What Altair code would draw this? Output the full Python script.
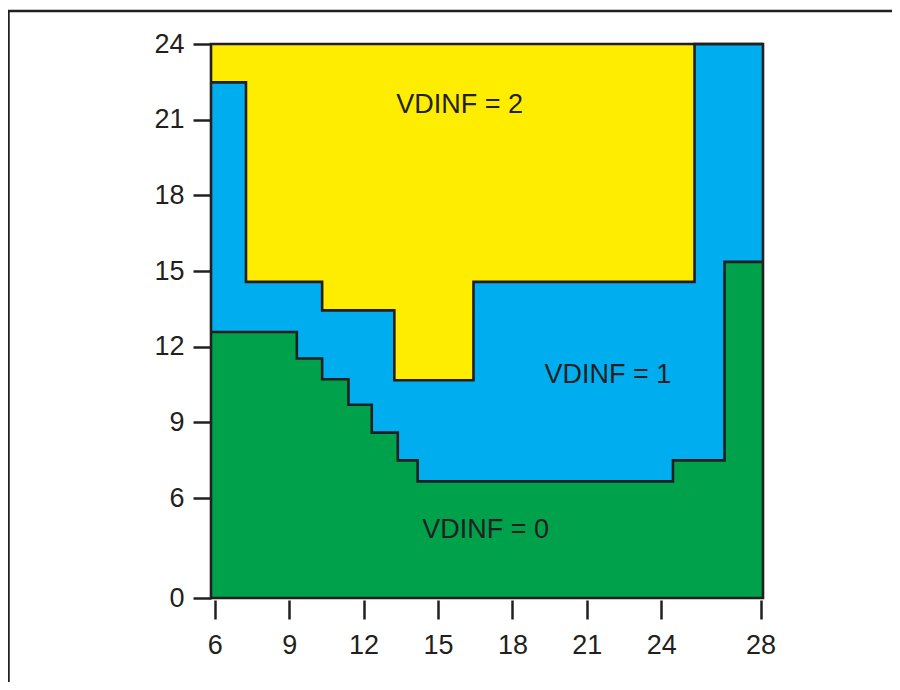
import altair as alt
import pandas as pd

# ---- data ----
x_start = 5.85
x_end = 28.1
y_top = 24

# upper edge of the VDINF = 0 region (step function, value holds until next x)
green_step_x = [5.85, 9.31, 10.33, 11.39, 12.33, 13.38, 14.18, 24.47, 26.55]
green_top = [12.58, 11.53, 10.71, 9.70, 8.59, 7.49, 6.66, 7.49, 15.36]

# upper edge of the VDINF = 1 region
blue_step_x = [5.85, 7.26, 10.33, 13.24, 16.43, 25.34]
blue_top = [22.48, 14.57, 13.44, 10.67, 14.57, 24.0]

x_ticks = [6, 9, 12, 15, 18, 21, 24, 28]
y_ticks = [0, 6, 9, 12, 15, 18, 21, 24]

region_labels = ["VDINF = 2", "VDINF = 1", "VDINF = 0"]
label_x = [15.87, 21.85, 16.92]
label_y = [21.6, 10.86, 4.08]

YELLOW = "#FFED00"
BLUE = "#00AEEF"
GREEN = "#00A14B"
INK = "#231f20"
FONT = "Liberation Sans"

# ---- tables ----
green = pd.DataFrame({"x": green_step_x + [x_end], "y": green_top + [green_top[-1]]})
blue = pd.DataFrame({"x": blue_step_x + [x_end], "y": blue_top + [blue_top[-1]]})
frame = pd.DataFrame({"x": [x_start], "x2": [x_end], "y": [0], "y2": [y_top]})
texts = pd.DataFrame({"label": region_labels, "x": label_x, "y": label_y})

W, H = 552, 554
xscale = alt.Scale(domain=[x_start, x_end], nice=False, zero=False)
# y axis is broken: 0..6 compressed into the bottom strip
yscale = alt.Scale(domain=[0, 6, 24], range=[H, H - 100, 0], nice=False, zero=False)

xaxis = alt.Axis(values=x_ticks, domain=False, grid=False, tickSize=19, tickWidth=2.5,
                 tickColor=INK, offset=2, labelFont=FONT, labelFontSize=27,
                 labelColor=INK, labelPadding=13, labelFlush=False, labelOverlap=False,
                 labelBound=False)
yaxis = alt.Axis(values=y_ticks, domain=False, grid=False, tickSize=18, tickWidth=2.5,
                 tickColor=INK, labelFont=FONT, labelFontSize=27, labelColor=INK,
                 labelPadding=9, labelFlush=False, labelOverlap=False, labelBound=False)

X = alt.X("x:Q", scale=xscale, axis=xaxis, title=None)
Y = alt.Y("y:Q", scale=yscale, axis=yaxis, title=None)

yellow_layer = alt.Chart(frame).mark_rect(color=YELLOW).encode(
    x=X, x2="x2:Q", y=Y, y2="y2:Q")

blue_layer = alt.Chart(blue).mark_area(interpolate="step-after", color=BLUE).encode(x=X, y=Y)
green_layer = alt.Chart(green).mark_area(interpolate="step-after", color=GREEN).encode(x=X, y=Y)

blue_line = alt.Chart(blue).mark_line(interpolate="step-after", color=INK, strokeWidth=2.6).encode(x=X, y=Y)
green_line = alt.Chart(green).mark_line(interpolate="step-after", color=INK, strokeWidth=2.6).encode(x=X, y=Y)

border = alt.Chart(frame).mark_rect(fillOpacity=0, stroke=INK, strokeWidth=2.6).encode(
    x=X, x2="x2:Q", y=Y, y2="y2:Q")

label_layer = alt.Chart(texts).mark_text(font=FONT, fontSize=27, color=INK).encode(
    x=X, y=Y, text="label:N")

# outer page frame (decoration)
frame_left = alt.Chart(frame).mark_rule(color=INK, strokeWidth=2.5).encode(
    x=alt.value(-202.5), y=alt.value(-33), y2=alt.value(640))
frame_top = alt.Chart(frame).mark_rule(color=INK, strokeWidth=2.5).encode(
    x=alt.value(-203.75), x2=alt.value(681), y=alt.value(-33))

chart = alt.layer(
    yellow_layer, blue_layer, green_layer, blue_line, green_line, border,
    label_layer, frame_left, frame_top
).properties(
    width=W, height=H,
    autosize=alt.AutoSizeParams(type="none"),
    padding={"left": 203, "top": 36, "right": 129, "bottom": 84},
    background="white",
).configure_view(stroke=None)

chart.save("out.html", embed_options={"renderer": "svg", "actions": False})
